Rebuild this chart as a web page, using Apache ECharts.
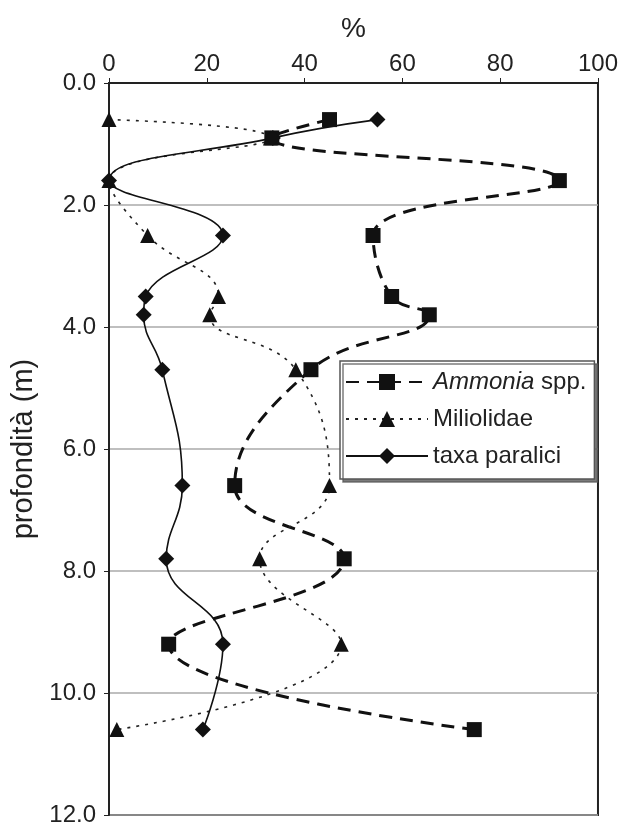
<!DOCTYPE html>
<html>
<head>
<meta charset="utf-8">
<script src="https://cdn.jsdelivr.net/npm/echarts@6/dist/echarts.min.js"></script>
<style>html,body{margin:0;padding:0;background:#fff;}#c{width:621px;height:827px;}</style>
</head>
<body>
<div id="c"></div>
<script>
const depths = [0.6, 0.9, 1.6, 2.5, 3.5, 3.8, 4.7, 6.6, 7.8, 9.2, 10.6];
const ammonia = [45.1, 33.3, 92.1, 54.0, 57.8, 65.5, 41.3, 25.7, 48.1, 12.2, 74.7];
const miliolidae = [0, 33.0, 0, 7.9, 22.4, 20.6, 38.2, 45.1, 30.8, 47.5, 1.6];
const taxa = [54.9, 33.5, 0, 23.3, 7.5, 7.1, 10.9, 15.0, 11.7, 23.3, 19.2];
const seriesNames = ['Ammonia spp.', 'Miliolidae', 'taxa paralici'];
const xTicks = [0, 20, 40, 60, 80, 100];
const yTicks = [0, 2, 4, 6, 8, 10, 12];

const pair = vals => vals.map((v, i) => [v, depths[i]]);
const font = "'Liberation Sans', Arial, sans-serif";
const chart = echarts.init(document.getElementById('c'));
chart.setOption({
  animation: false,
  textStyle: { fontFamily: font },
  grid: { left: 109, top: 83, right: 21, bottom: 8, show: true, borderColor: '#222', borderWidth: 2, backgroundColor: 'transparent' },
  xAxis: {
    type: 'value', position: 'top', min: xTicks[0], max: xTicks[xTicks.length - 1], interval: 20,
    name: '%', nameLocation: 'middle', nameGap: 40,
    nameTextStyle: { fontSize: 28, color: '#222', fontFamily: font },
    axisLine: { show: true, lineStyle: { color: '#222', width: 2 } },
    axisTick: { show: true, inside: false, length: 5, lineStyle: { color: '#222', width: 1 } },
    axisLabel: { fontSize: 24, color: '#222', margin: 7, fontFamily: font },
    splitLine: { show: false }
  },
  yAxis: {
    type: 'value', inverse: true, min: yTicks[0], max: yTicks[yTicks.length - 1], interval: 2,
    name: 'profondità (m)', nameLocation: 'middle', nameGap: 66,
    nameTextStyle: { fontSize: 29, color: '#222', fontFamily: font },
    axisLine: { show: true, lineStyle: { color: '#222', width: 2 } },
    axisTick: { show: true, inside: false, length: 5, lineStyle: { color: '#222', width: 1 } },
    axisLabel: { fontSize: 24, color: '#222', margin: 13, fontFamily: font, formatter: v => v.toFixed(1) },
    splitLine: { show: true, lineStyle: { color: '#aaa', width: 1.5 } }
  },
  legend: {
    orient: 'vertical', left: 340, top: 361,
    data: seriesNames,
    backgroundColor: '#fff', borderColor: '#555', borderWidth: 1.5,
    shadowColor: 'rgba(90,90,90,0.8)', shadowOffsetX: 3, shadowOffsetY: 3, shadowBlur: 0,
    padding: [9, 8, 11, 5],
    itemWidth: 82, itemHeight: 20, itemGap: 13,
    formatter: n => n === 'Ammonia spp.' ? '{i|Ammonia} spp.' : n,
    textStyle: { fontSize: 24, color: '#222', lineHeight: 24, fontFamily: font,
      rich: { i: { fontStyle: 'italic', fontSize: 24, color: '#222', fontFamily: font } } }
  },
  series: [
    { name: seriesNames[0], type: 'line', data: pair(ammonia), smooth: 0.45,
      symbol: 'rect', symbolSize: 15, itemStyle: { color: '#111' },
      lineStyle: { color: '#111', width: 3, type: [13, 8] } },
    { name: seriesNames[1], type: 'line', data: pair(miliolidae), smooth: 0.45,
      symbol: 'triangle', symbolSize: 15, itemStyle: { color: '#111' },
      lineStyle: { color: '#222', width: 1.6, type: [3, 6] } },
    { name: seriesNames[2], type: 'line', data: pair(taxa), smooth: 0.45,
      symbol: 'diamond', symbolSize: 16, itemStyle: { color: '#111' },
      lineStyle: { color: '#111', width: 1.6, type: 'solid' } }
  ]
});
</script>
</body>
</html>
